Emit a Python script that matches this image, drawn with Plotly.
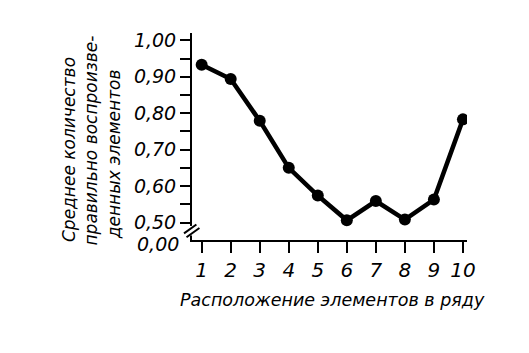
import plotly.graph_objects as go

positions = [1, 2, 3, 4, 5, 6, 7, 8, 9, 10]
mean_recalled = [0.933, 0.894, 0.779, 0.650, 0.574, 0.506, 0.559, 0.508, 0.563, 0.783]

y_tickvals = [0.50, 0.55, 0.60, 0.65, 0.70, 0.75, 0.80, 0.85, 0.90, 0.95, 1.00]
y_ticktext = ["0,50", "", "0,60", "", "0,70", "", "0,80", "", "0,90", "", "1,00"]
x_ticktext = [str(p) for p in positions]

y_title_lines = ["Среднее количество", "правильно воспроизве-", "денных элементов"]
x_title = "Расположение элементов в ряду"
zero_label = "0,00"

FONT = "DejaVu Sans, sans-serif"

fig = go.Figure()
fig.add_trace(go.Scatter(
    x=positions, y=mean_recalled, mode="lines+markers",
    line=dict(color="black", width=4.5),
    marker=dict(color="black", size=12),
    hoverinfo="skip",
))

fig.update_layout(
    width=529, height=353,
    margin=dict(l=192, r=62, t=33, b=113, pad=0),
    paper_bgcolor="white", plot_bgcolor="white",
    showlegend=False,
    font=dict(family=FONT, color="black", style="italic"),
)
fig.update_xaxes(
    range=[0.667, 10.14], tickvals=positions, ticktext=x_ticktext,
    showline=True, linecolor="black", linewidth=2,
    ticks="outside", ticklen=11, tickwidth=2, tickcolor="black",
    tickfont=dict(size=20, family=FONT, style="italic"),
    showgrid=False, zeroline=False,
)
fig.update_yaxes(
    range=[0.452, 1.02], tickvals=y_tickvals, ticktext=y_ticktext,
    showline=True, linecolor="black", linewidth=2,
    ticks="outside", ticklen=10, tickwidth=2, tickcolor="black",
    tickfont=dict(size=19, family=FONT, style="italic"),
    showgrid=False, zeroline=False,
)

# axis break marks
fig.add_shape(type="rect", xref="paper", yref="paper", x0=-0.02, x1=0.02, y0=0.022, y1=0.068,
              fillcolor="white", line=dict(width=0), layer="above")
fig.add_shape(type="line", xref="paper", yref="paper", x0=-0.029, y0=0.032, x1=0.016, y1=0.075,
              line=dict(color="black", width=2), layer="above")
fig.add_shape(type="line", xref="paper", yref="paper", x0=-0.02, y0=0.013, x1=0.027, y1=0.058,
              line=dict(color="black", width=2), layer="above")

fig.add_annotation(text=zero_label, xref="paper", yref="paper", x=-0.04, y=-0.02,
                   xanchor="right", yanchor="middle", showarrow=False,
                   font=dict(size=19, family=FONT, style="italic"))

title_x = [-0.448, -0.367, -0.283]
title_y = [-0.018, -0.036, -0.005]
for line, tx, ty in zip(y_title_lines, title_x, title_y):
    fig.add_annotation(text=line, xref="paper", yref="paper", x=tx, y=ty,
                       xanchor="center", yanchor="bottom", textangle=-90,
                       showarrow=False, font=dict(size=17, family=FONT, style="italic"))

fig.add_annotation(text=x_title, xref="paper", yref="paper", x=0.51, y=-0.29,
                   xanchor="center", yanchor="middle", showarrow=False,
                   font=dict(size=17.5, family=FONT, style="italic"))

fig.write_html("out.html")
